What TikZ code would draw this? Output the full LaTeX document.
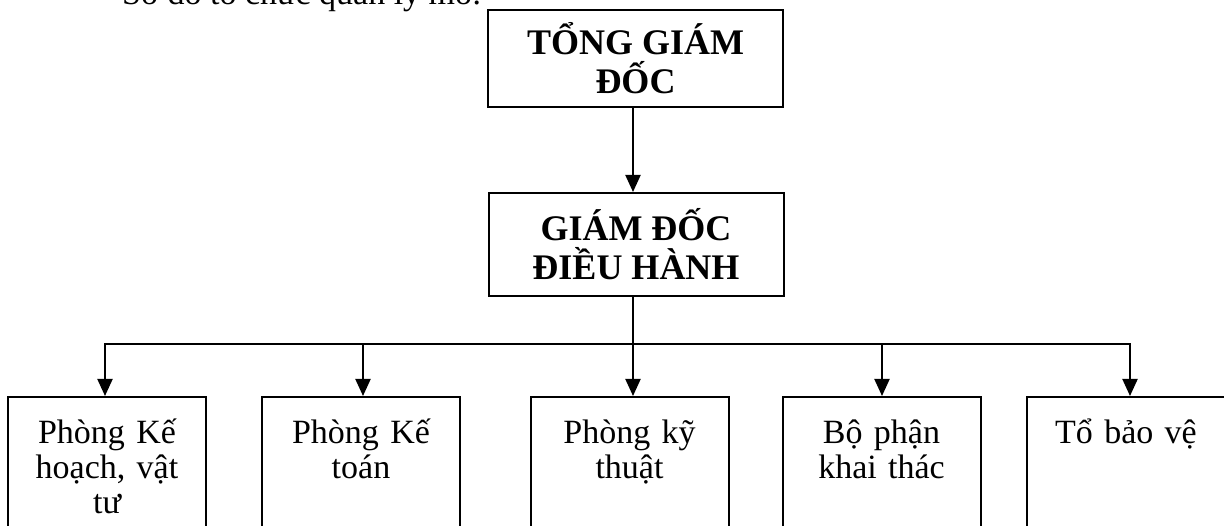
\documentclass[tikz,border=0pt]{standalone}
\usepackage{fontspec}
\setmainfont{Liberation Serif}
\usetikzlibrary{arrows.meta}
\begin{document}
\begin{tikzpicture}[x=1pt,y=-1pt,
  every node/.style={font=\fontsize{34}{35}\selectfont},
  headbox/.style={draw, line width=2pt, inner sep=0pt, minimum width=295pt,
    align=center, font=\fontsize{36}{39}\selectfont\bfseries},
  unitbox/.style={draw, line width=2pt, inner sep=0pt, text width=198pt,
    align=center, text height=47pt, text depth=130pt, anchor=north},
  link/.style={line width=2pt, line cap=rect},
  arrowlink/.style={line width=2pt, -{Triangle[length=17pt,width=15pt]}}]
\useasboundingbox (0,0) rectangle (1224,526);

% heading line of the page
\node[anchor=base west, inner sep=0pt] (title) at (122,5) {Sơ đồ tổ chức quản lý mỏ:};

% management levels
\node[headbox, minimum height=97pt] (ceo) at (635.5,58.5) {TỔNG GIÁM\\ĐỐC};
\node[headbox, minimum height=103pt] (exec) at (636,244.5) {GIÁM ĐỐC\\ĐIỀU HÀNH};

% departments
\node[unitbox] (u1) at (107,396) {Phòng Kế\\hoạch, vật\\tư};
\node[unitbox] (u2) at (361,396) {Phòng Kế\\toán};
\node[unitbox] (u3) at (629.5,396) {Phòng kỹ\\thuật};
\node[unitbox] (u4) at (881.5,396) {Bộ phận\\khai thác};
\node[unitbox] (u5) at (1126,396) {Tổ bảo vệ};

% connectors
\coordinate (spine) at (633,0);
\coordinate (d1) at (105,344);
\coordinate (d2) at (363,344);
\coordinate (d3) at (633,344);
\coordinate (d4) at (882,344);
\coordinate (d5) at (1130,344);

\draw[arrowlink] (ceo.south -| spine) -- (exec.north -| spine);
\draw[link] (exec.south -| spine) -- (d3);
\draw[link] (d1) -- (d5);
\foreach \i in {1,...,5}{
  \draw[arrowlink] (d\i) -- (d\i |- u\i.north);
}
\end{tikzpicture}
\end{document}
